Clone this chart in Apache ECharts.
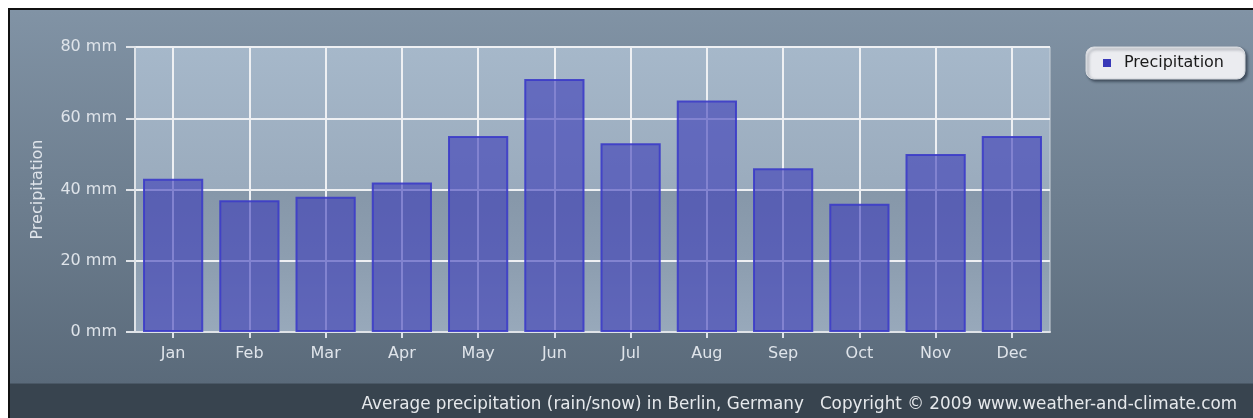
<!DOCTYPE html>
<html>
<head>
<meta charset="utf-8">
<script src="https://cdn.jsdelivr.net/npm/echarts@6/dist/echarts.min.js"></script>
<style>
html,body{margin:0;padding:0;background:#fff;}
#chart{width:1253px;height:418px;}
</style>
</head>
<body>
<div id="chart"></div>
<script>
const months = ['Jan','Feb','Mar','Apr','May','Jun','Jul','Aug','Sep','Oct','Nov','Dec'];
const precipitation = [43, 37, 38, 42, 55, 71, 53, 65, 46, 36, 50, 55];
const yTicks = { min: 0, max: 80, interval: 20, unit: 'mm' };
const seriesName = 'Precipitation';
const footerText = 'Average precipitation (rain/snow) in Berlin, Germany   Copyright \u00a9 2009 www.weather-and-climate.com';

const FONT = '"DejaVu Sans", sans-serif';
const LABEL = '#dfe4ea';

// half-step axis used only to place vertical grid lines at category centres
const halfSteps = [];
for (let i = 0; i <= months.length * 2; i++) halfSteps.push('');

const chart = echarts.init(document.getElementById('chart'), null, {renderer: 'canvas'});
chart.setOption({
  backgroundColor: '#ffffff',
  animation: false,
  graphic: [
    { type: 'rect', z: -10, shape: {x: 8, y: 8, width: 1260, height: 420}, style: {fill: '#111'} },
    { type: 'rect', z: -9, shape: {x: 10, y: 10, width: 1260, height: 374},
      style: {fill: new echarts.graphic.LinearGradient(0, 0, 0, 1, [
        {offset: 0, color: '#8193a5'}, {offset: 1, color: '#5a6a7a'}])} },
    { type: 'rect', z: -9, shape: {x: 10, y: 383, width: 1260, height: 40}, style: {fill: '#38444f'} },
    { type: 'rect', z: -9, shape: {x: 10, y: 383, width: 1260, height: 1}, style: {fill: '#4a5866'} },
    { type: 'text', z: 5, right: 16, top: 396,
      style: {text: footerText, fill: '#e6e9ec', font: '16.8px ' + FONT} }
  ],
  grid: {
    left: 135, right: 203, top: 47, bottom: 86,
    show: true,
    borderColor: '#c9d1d9', borderWidth: 1,
    backgroundColor: new echarts.graphic.LinearGradient(0, 0, 0, 1, [
      {offset: 0, color: '#a6b8ca'},
      {offset: 0.5, color: '#9aabbd'},
      {offset: 0.5, color: '#8697a9'},
      {offset: 0.78, color: '#8e9fb1'},
      {offset: 1, color: '#98a9bb'}
    ])
  },
  legend: {
    left: 1086, top: 47,
    data: [seriesName],
    icon: 'rect',
    itemWidth: 8, itemHeight: 8,
    padding: [8, 21, 8, 17],
    backgroundColor: '#ebecf0',
    borderColor: '#d8dbe0', borderWidth: 1, borderRadius: 8,
    shadowColor: 'rgba(20,30,45,0.6)', shadowBlur: 3, shadowOffsetX: 2, shadowOffsetY: 2,
    itemStyle: {color: '#3838b8', borderWidth: 0},
    textStyle: {color: '#1a1a1a', fontSize: 16, fontFamily: FONT, padding: [0, 0, 0, 8]}
  },
  xAxis: [
    {
      type: 'category', data: months, position: 'bottom',
      axisLine: {show: true, lineStyle: {color: '#dfe3e8', width: 2}},
      axisTick: {show: true, alignWithLabel: true, length: 6, lineStyle: {color: '#dfe3e8', width: 2}},
      axisLabel: {color: LABEL, fontSize: 16, fontFamily: FONT, margin: 14},
      splitLine: {show: false}
    },
    {
      type: 'category', data: halfSteps, position: 'top', boundaryGap: false,
      axisLine: {show: false}, axisTick: {show: false}, axisLabel: {show: false},
      splitLine: {show: true, interval: function (idx) { return idx % 2 === 1; },
        lineStyle: {color: '#eef0f3', width: 2}}
    }
  ],
  yAxis: {
    type: 'value', min: yTicks.min, max: yTicks.max, interval: yTicks.interval,
    name: seriesName, nameLocation: 'middle', nameGap: 89,
    nameTextStyle: {color: LABEL, fontSize: 16, fontFamily: FONT},
    axisLine: {show: true, lineStyle: {color: '#dfe3e8', width: 2}},
    axisTick: {show: true, length: 9, lineStyle: {color: '#dfe3e8', width: 2}},
    axisLabel: {color: LABEL, fontSize: 16, fontFamily: FONT, margin: 18,
      formatter: function (v) { return v + ' ' + yTicks.unit; }},
    splitLine: {show: true, lineStyle: {color: '#eef0f3', width: 2}}
  },
  series: [{
    name: seriesName, type: 'bar', data: precipitation,
    xAxisIndex: 0,
    barCategoryGap: '21%',
    itemStyle: {color: 'rgba(58,58,185,0.6)', borderColor: 'rgba(60,60,200,0.9)', borderWidth: 2}
  }]
});
</script>
</body>
</html>
